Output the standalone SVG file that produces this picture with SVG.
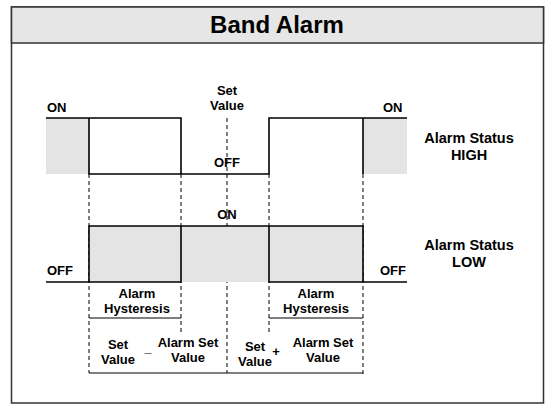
<svg xmlns="http://www.w3.org/2000/svg" width="555" height="410" viewBox="0 0 555 410">
<style>
text{font-family:"Liberation Sans",Arial,sans-serif;font-weight:bold;fill:#000;}
.lbl{font-size:13px;}
.st{font-size:14.5px;text-anchor:middle;}
.m{text-anchor:middle;}
.wave{fill:none;stroke:#000;stroke-width:1.6;}
.dash{fill:none;stroke:#000;stroke-width:1;stroke-dasharray:4 3;}
.solid{fill:none;stroke:#000;stroke-width:1.2;}
.gray{fill:#e4e4e4;stroke:none;}
</style>
<g id="frame">
<rect x="11.5" y="7" width="532" height="396" fill="#fff" stroke="#333" stroke-width="1.5"/>
<rect x="11.5" y="7" width="532" height="36" fill="#e6e6e6" stroke="#333" stroke-width="1.5"/>
<text x="277" y="33" font-size="24" text-anchor="middle">Band Alarm</text>
</g>
<g id="connectors">
<line class="dash" x1="89" y1="174" x2="89" y2="373"/>
<line class="dash" x1="181" y1="174" x2="181" y2="333"/>
<line class="dash" x1="227" y1="118" x2="227" y2="373"/>
<line class="dash" x1="269" y1="174" x2="269" y2="333"/>
<line class="dash" x1="363" y1="174" x2="363" y2="376"/>
<line class="solid" x1="89" y1="318" x2="181" y2="318"/>
<line class="solid" x1="269" y1="318" x2="363" y2="318"/>
<line class="solid" x1="89" y1="373" x2="363" y2="373"/>
</g>
<g id="high-wave">
<rect class="gray" x="46" y="118" width="43" height="56"/>
<rect class="gray" x="363" y="118" width="44" height="56"/>
<path class="wave" d="M46 118H181V174M89 118V174H269V118H407M363 118V174"/>
<text class="lbl" x="47" y="112">ON</text>
<text class="lbl" x="383" y="112">ON</text>
<text class="lbl m" x="227" y="167">OFF</text>
<text class="lbl m" x="227" y="95">Set</text>
<text class="lbl m" x="227" y="110">Value</text>
</g>
<g id="high-label">
<text class="st" x="469" y="143">Alarm Status</text>
<text class="st" x="469" y="160">HIGH</text>
</g>
<g id="low-wave">
<rect class="gray" x="89" y="226" width="274" height="56"/>
<path class="wave" d="M46 282H181V226M89 282V226H363V282M269 226V282H407"/>
<text class="lbl m" x="227" y="219">ON</text>
<text class="lbl" x="47" y="275">OFF</text>
<text class="lbl" x="380" y="275">OFF</text>
</g>
<g id="low-label">
<text class="st" x="469" y="250">Alarm Status</text>
<text class="st" x="469" y="267">LOW</text>
</g>
<g id="hyst-left">
<text class="lbl m" x="137" y="298">Alarm</text>
<text class="lbl m" x="137" y="313">Hysteresis</text>
</g>
<g id="hyst-right">
<text class="lbl m" x="316" y="298">Alarm</text>
<text class="lbl m" x="316" y="313">Hysteresis</text>
</g>
<g id="low-limit">
<text class="lbl m" x="118" y="349">Set</text>
<text class="lbl m" x="118" y="364">Value</text>
<text class="lbl m" x="148" y="352">_</text>
<text class="lbl m" x="188" y="347">Alarm Set</text>
<text class="lbl m" x="188" y="362">Value</text>
</g>
<g id="high-limit">
<text class="lbl m" x="255" y="351">Set</text>
<text class="lbl m" x="255" y="366">Value</text>
<text class="lbl m" x="276" y="356">+</text>
<text class="lbl m" x="323" y="347">Alarm Set</text>
<text class="lbl m" x="323" y="362">Value</text>
</g>
</svg>
